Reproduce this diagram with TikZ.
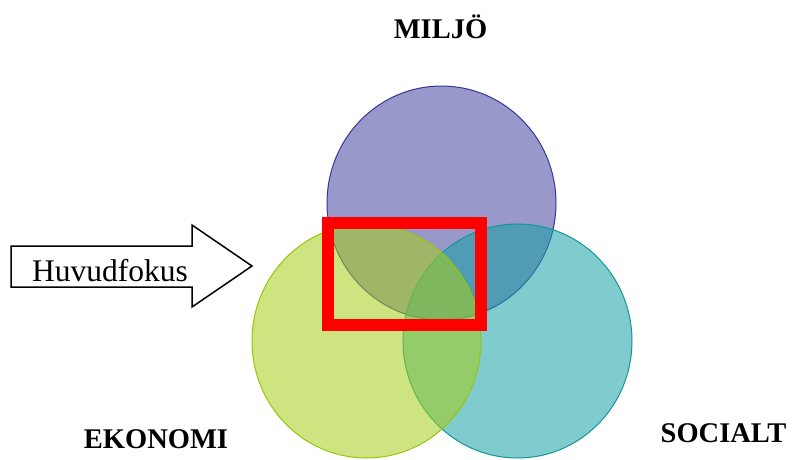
\documentclass[tikz,border=0pt]{standalone}
\usepackage{fontspec}
\setmainfont{Liberation Serif}
\usetikzlibrary{shapes.geometric}

\definecolor{miljoFill}{RGB}{68,68,159}
\definecolor{miljoLine}{RGB}{55,55,150}
\definecolor{ekoFill}{RGB}{164,206,24}
\definecolor{ekoLine}{RGB}{150,198,10}
\definecolor{socFill}{RGB}{22,160,164}
\definecolor{socLine}{RGB}{20,150,152}
\definecolor{focusRed}{RGB}{255,0,0}

\tikzset{
  sphere/.style={ellipse, minimum width=229pt, minimum height=234pt,
    inner sep=0pt, fill opacity=0.55, draw opacity=1, line width=1pt},
  heading/.style={font=\fontsize{28.5}{34}\selectfont\bfseries, inner sep=0pt, anchor=base},
  arrowtext/.style={font=\fontsize{31.5}{37}\selectfont, inner sep=0pt, anchor=base west},
  focusframe/.style={draw=focusRed, line width=12pt},
  pointer/.style={draw=black, line width=1.5pt, fill=white, line join=miter}
}

\begin{document}
\begin{tikzpicture}[x=1pt, y=-1pt]
  \useasboundingbox (0,0) rectangle (793,459);

  % the three overlapping areas
  \node[sphere, fill=miljoFill, draw=miljoLine] (miljo) at (441.5,203) {};
  \node[sphere, fill=socFill, draw=socLine] (socialt) at (517.5,341) {};
  \node[sphere, fill=ekoFill, draw=ekoLine] (ekonomi) at (366.5,341) {};

  % labels
  \node[heading] (miljoLabel) at (440.5,38) {MILJÖ};
  \node[heading] (ekoLabel) at (156,448) {EKONOMI};
  \node[heading] (socLabel) at (723.5,442) {SOCIALT};

  % focus frame
  \node[focusframe, minimum width=153.5pt, minimum height=102.5pt, inner sep=0pt]
    (focus) at (404.25,273.75) {};

  % block arrow pointing at the focus
  \draw[pointer] (11,246) -- (192,246) -- (192,225) -- (252,266)
    -- (192,307) -- (192,287) -- (11,287) -- cycle;
  \node[arrowtext] (huvud) at (32,281.5) {Huvudfokus};
\end{tikzpicture}
\end{document}
